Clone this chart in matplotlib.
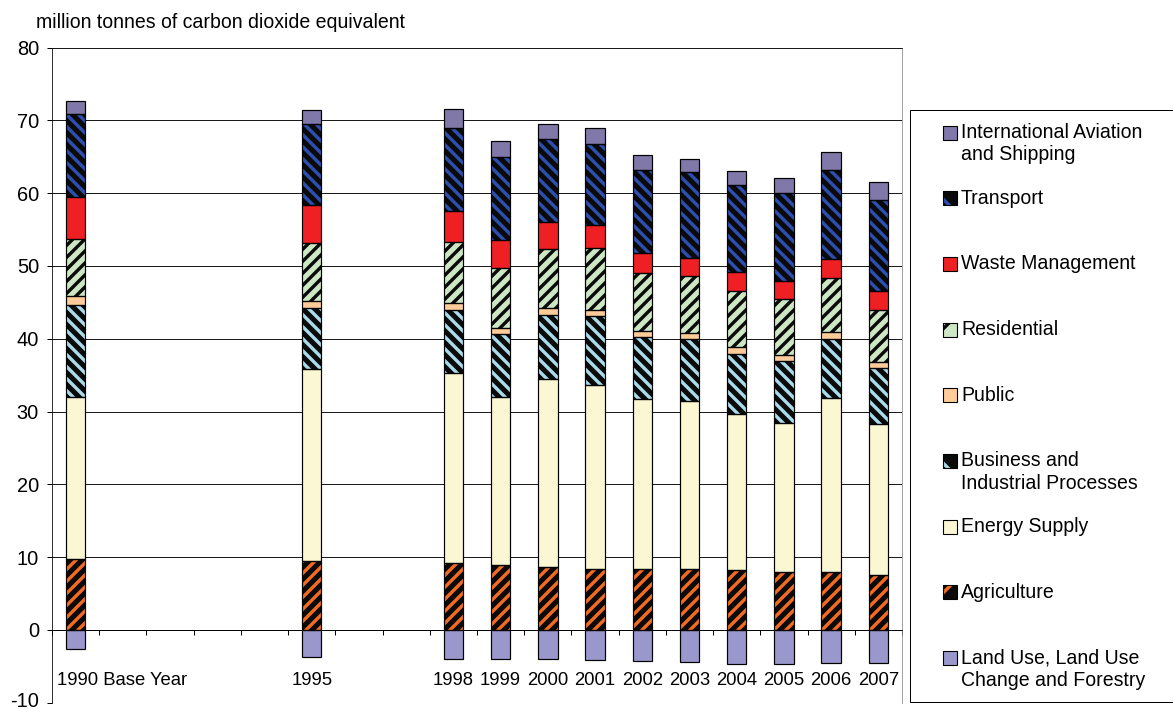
import numpy as np
import matplotlib
matplotlib.use("Agg")
import matplotlib.pyplot as plt
from matplotlib.patches import Rectangle
from matplotlib.transforms import ScaledTranslation

plt.rcParams["font.family"] = ["Liberation Sans", "DejaVu Sans"]
plt.rcParams["hatch.linewidth"] = 3.4
plt.rcParams["axes.unicode_minus"] = False

# Categories (blank slots keep the time axis spacing between reported years)
categories = ["1990 Base Year", "", "", "", "", "1995", "", "",
              "1998", "1999", "2000", "2001", "2002", "2003",
              "2004", "2005", "2006", "2007"]

_ = None
# million tonnes CO2 equivalent, by sector
land_use = [-2.6, _, _, _, _, -3.7, _, _,
            -3.95, -4.0, -4.0, -4.1, -4.3, -4.4, -4.7, -4.7, -4.5, -4.5]
agriculture = [9.7, _, _, _, _, 9.4, _, _,
               9.2, 8.9, 8.6, 8.4, 8.4, 8.4, 8.2, 8.0, 7.9, 7.6]
energy_supply = [22.3, _, _, _, _, 26.5, _, _,
                 26.1, 23.1, 25.9, 25.2, 23.3, 23.1, 21.4, 20.4, 24.0, 20.7]
business = [12.6, _, _, _, _, 8.3, _, _,
            8.6, 8.6, 8.8, 9.5, 8.6, 8.5, 8.3, 8.5, 8.1, 7.7]
public = [1.2, _, _, _, _, 1.0, _, _,
          1.0, 0.9, 0.9, 0.9, 0.8, 0.8, 0.9, 0.9, 0.9, 0.8]
residential = [7.9, _, _, _, _, 7.9, _, _,
               8.4, 8.2, 8.1, 8.4, 7.9, 7.8, 7.8, 7.6, 7.4, 7.2]
waste = [5.7, _, _, _, _, 5.2, _, _,
         4.2, 3.9, 3.7, 3.2, 2.8, 2.5, 2.5, 2.5, 2.6, 2.6]
transport = [11.4, _, _, _, _, 11.2, _, _,
             11.5, 11.3, 11.4, 11.2, 11.4, 11.8, 12.0, 12.1, 12.3, 12.4]
aviation = [1.9, _, _, _, _, 1.9, _, _,
            2.6, 2.2, 2.1, 2.1, 2.0, 1.8, 2.0, 2.1, 2.5, 2.5]

# (label, values, face colour, hatch, hatch colour) stacked from the bottom up
positive_series = [
    ("Agriculture", agriculture, "#0a0a0a", "//", "#F26B21"),
    ("Energy Supply", energy_supply, "#FAF7D2", None, None),
    ("Business and\nIndustrial Processes", business, "#0a0a0a", "\\\\", "#A9DBEA"),
    ("Public", public, "#FFCC99", None, None),
    ("Residential", residential, "#CDE6C4", "//", "#0a0a0a"),
    ("Waste Management", waste, "#EE2024", None, None),
    ("Transport", transport, "#0a0a0a", "\\\\", "#2C4FB0"),
    ("International Aviation\nand Shipping", aviation, "#7F78A8", None, None),
]
negative_series = ("Land Use, Land Use\nChange and Forestry", land_use, "#9A97CC", None, None)

W, H = 1173, 709
DPI = 72
fig = plt.figure(figsize=(W / DPI, H / DPI), dpi=DPI, facecolor="white")

# plot area in pixels
left, right, top, bottom = 52, 902, 47.5, 702.7
ax = fig.add_axes([left / W, (H - bottom) / H, (right - left) / W, (bottom - top) / H])

n = len(categories)
x = np.arange(n)
bar_w = 0.41


def draw_segment(axis, xs, heights, bottoms, face, hatch, hcolor):
    axis.bar(xs, heights, bar_w, bottom=bottoms, color=face,
             edgecolor=hcolor if hatch else "none", hatch=hatch,
             linewidth=0, zorder=3)
    axis.bar(xs, heights, bar_w, bottom=bottoms, facecolor="none",
             edgecolor="black", linewidth=1.2, zorder=4)


base = np.zeros(n)
for label, vals, face, hatch, hcolor in positive_series:
    v = np.array([np.nan if a is None else a for a in vals], dtype=float)
    ok = np.isfinite(v)
    draw_segment(ax, x[ok], v[ok], base[ok], face, hatch, hcolor)
    base[ok] += v[ok]

label, vals, face, hatch, hcolor = negative_series
v = np.array([np.nan if a is None else a for a in vals], dtype=float)
ok = np.isfinite(v)
draw_segment(ax, x[ok], v[ok], np.zeros(ok.sum()), face, hatch, hcolor)

ax.set_xlim(-0.5, n - 0.5)
ax.set_ylim(-10, 80)
ax.set_yticks(np.arange(-10, 81, 10))
ax.yaxis.grid(True, color="#1a1a1a", linewidth=1)
ax.set_axisbelow(True)
ax.tick_params(axis="y", direction="out", length=5, width=1, pad=8,
               labelsize=20, colors="black")
low = ax.get_yticklabels()[0]
low.set_transform(low.get_transform() + ScaledTranslation(0, 3 / 72, fig.dpi_scale_trans))

ax.spines["bottom"].set_position(("data", 0))
ax.spines["bottom"].set_color("black")
ax.spines["left"].set_color("black")
ax.spines["right"].set_color("#8c8c8c")
ax.spines["top"].set_color("#1a1a1a")

ax.set_xticks(x)
ax.set_xticklabels(categories, fontsize=18.5)
ax.set_xticks(np.arange(-0.5, n, 1), minor=True)
ax.tick_params(axis="x", which="major", length=0, pad=42)
ax.tick_params(axis="x", which="minor", direction="out", length=5, width=1)
first = ax.get_xticklabels()[0]
first.set_horizontalalignment("left")
first.set_transform(first.get_transform() + ScaledTranslation(-19 / 72, 0, fig.dpi_scale_trans))

# overlay in pixel coordinates for the unit caption and the legend
ov = fig.add_axes([0, 0, 1, 1], zorder=5)
ov.set_xlim(0, W)
ov.set_ylim(H, 0)
ov.axis("off")

ov.text(36, 22, "million tonnes of carbon dioxide equivalent", fontsize=19.5,
        va="center", ha="left")

ov.add_patch(Rectangle((909.5, 110), 300, 592, facecolor="white",
                       edgecolor="black", linewidth=1, clip_on=False))

legend_items = [negative_series] + positive_series
legend_items = legend_items[::-1]
y0, step, sq = 132.5, 65.7, 14
for i, (label, vals, face, hatch, hcolor) in enumerate(legend_items):
    yc = y0 + i * step
    ov.add_patch(Rectangle((943, yc - sq / 2), sq, sq, facecolor=face,
                           edgecolor=hcolor if hatch else "none",
                           hatch=hatch[0] if hatch else None, linewidth=0))
    ov.add_patch(Rectangle((943, yc - sq / 2), sq, sq, facecolor="none",
                           edgecolor="black", linewidth=1.1))
    for j, line in enumerate(label.split("\n")):
        ov.text(961, yc + j * 22.5, line, fontsize=19.5, va="center", ha="left")

fig.savefig("out.png", dpi=DPI, facecolor="white")
